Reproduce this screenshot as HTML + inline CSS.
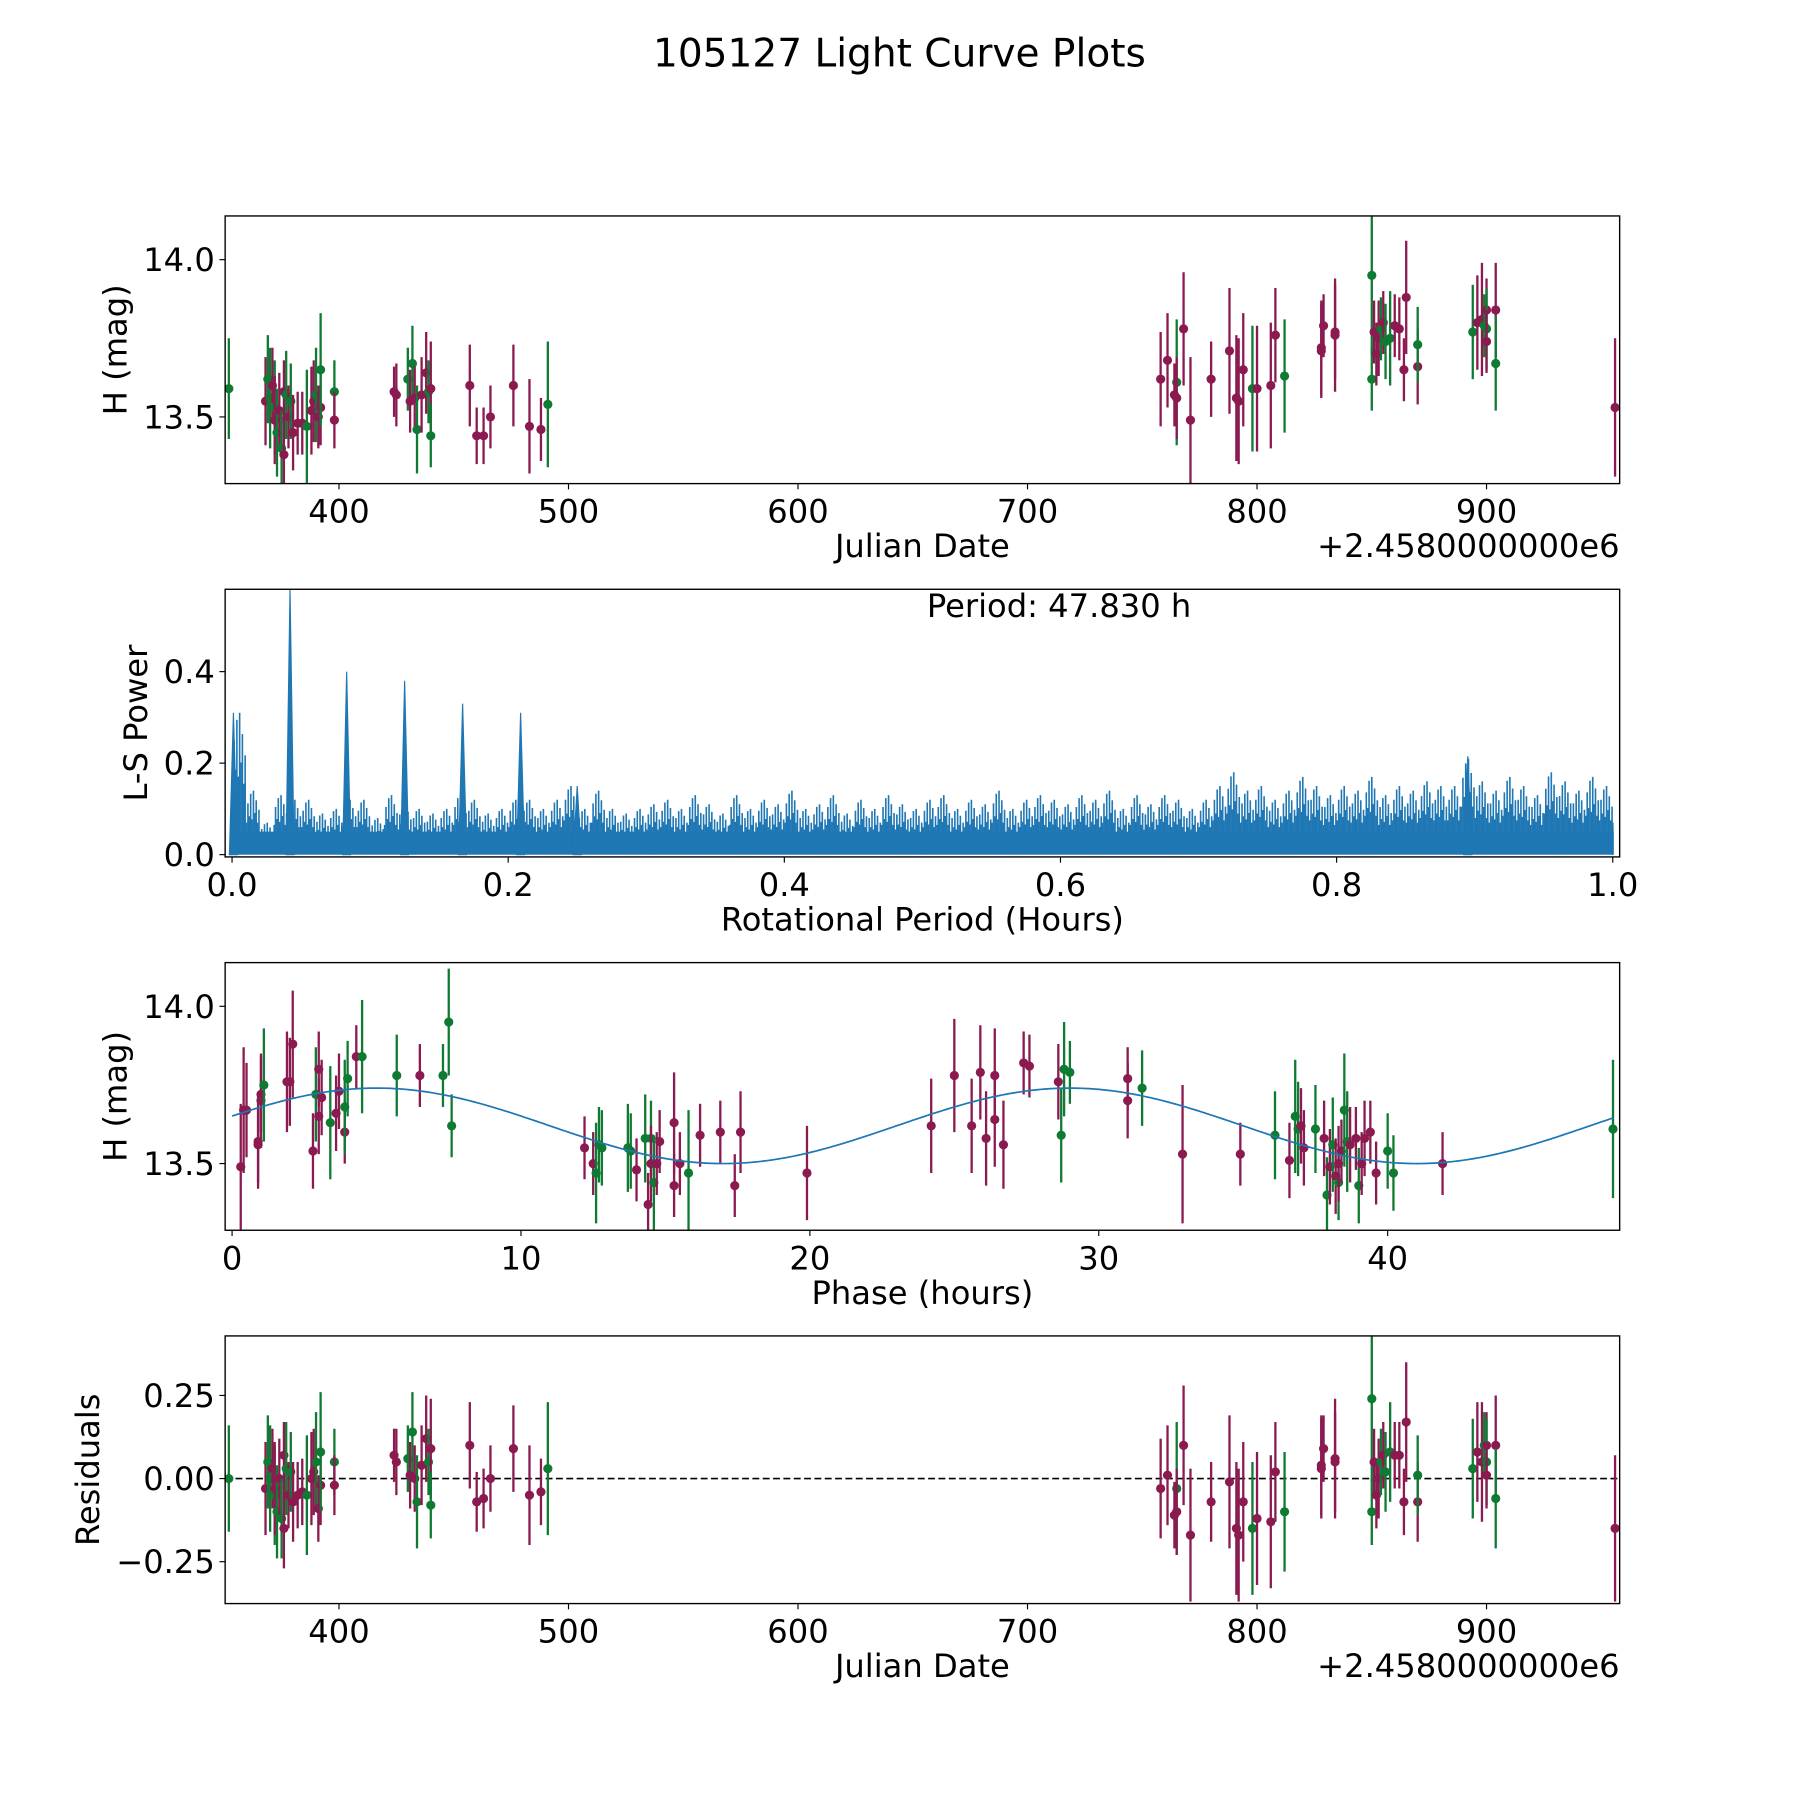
<!DOCTYPE html>
<html><head><meta charset="utf-8"><style>
html,body{margin:0;padding:0;background:#fff}
svg{display:block}
text{font-family:"DejaVu Sans","Liberation Sans",sans-serif;fill:#000}
</style></head><body>
<svg id="fig" xmlns="http://www.w3.org/2000/svg" width="1800" height="1800" viewBox="0 0 1567 1567">
<text x="783" y="58" font-size="34" text-anchor="middle">105127 Light Curve Plots</text>
</svg>
<script>
// ---- Panel 1 / 4 data: Julian date offsets (JD - 2458000), H mags, errors, filter (M=maroon, G=green)
const jdDays = [352,368,369,370,371,372,372,373,374,375,376,376,377,378,379,380,382,384,386,388,389,390,391,392,392,398,398,424,425,430,431,432,433,434,436,438,439,440,440,457,460,463,466,476,483,488,491,
758,761,765,765,764,768,771,780,788,791,792,794,798,800,806,808,812,828,828,829,834,834,850,850,851,852,853,854,855,856,858,860,862,864,865,870,870,894,896,898,899,900,900,900,904,904,956];
const hMag = [13.59,13.55,13.62,13.56,13.60,13.53,13.49,13.45,13.52,13.40,13.38,13.58,13.57,13.50,13.55,13.45,13.48,13.48,13.47,13.52,13.55,13.57,13.50,13.53,13.65,13.58,13.49,13.58,13.57,13.62,13.55,13.67,13.56,13.46,13.57,13.64,13.58,13.59,13.44,13.60,13.44,13.44,13.50,13.60,13.47,13.46,13.54,
13.62,13.68,13.61,13.56,13.57,13.78,13.49,13.62,13.71,13.56,13.55,13.65,13.59,13.59,13.60,13.76,13.63,13.72,13.71,13.79,13.76,13.77,13.95,13.62,13.77,13.70,13.75,13.78,13.80,13.74,13.75,13.79,13.78,13.65,13.88,13.66,13.73,13.77,13.80,13.81,13.79,13.84,13.78,13.74,13.84,13.67,13.53];
const hErr = [0.16,0.14,0.14,0.16,0.12,0.15,0.14,0.14,0.12,0.12,0.12,0.10,0.14,0.10,0.12,0.12,0.10,0.10,0.18,0.14,0.13,0.15,0.10,0.12,0.18,0.10,0.09,0.08,0.10,0.10,0.10,0.12,0.10,0.14,0.12,0.13,0.10,0.15,0.10,0.13,0.09,0.09,0.10,0.13,0.15,0.10,0.20,
0.15,0.15,0.20,0.13,0.10,0.18,0.20,0.12,0.20,0.20,0.20,0.18,0.20,0.20,0.20,0.15,0.18,0.15,0.15,0.10,0.18,0.15,0.25,0.10,0.10,0.10,0.12,0.10,0.10,0.12,0.15,0.10,0.10,0.10,0.18,0.12,0.12,0.15,0.15,0.18,0.10,0.10,0.13,0.10,0.15,0.15,0.22];
const filt = ['G','M','G','G','M','G','M','G','M','G','M','M','G','M','G','M','M','M','G','M','M','G','M','M','G','G','M','M','M','G','M','G','M','G','M','M','G','M','G','M','M','M','M','M','M','M','G',
'M','M','G','M','M','M','M','M','M','M','M','M','G','M','M','M','G','M','M','M','M','M','G','G','M','M','M','G','M','G','G','M','M','M','M','M','G','G','M','M','G','M','G','M','M','G','M'];
const resid = [0.00,-0.03,0.05,0.00,0.03,-0.05,-0.03,-0.10,0.00,-0.12,-0.15,0.07,0.03,-0.05,0.02,-0.07,-0.05,-0.04,-0.05,0.00,0.02,0.05,-0.09,-0.02,0.08,0.05,-0.02,0.07,0.05,0.06,0.01,0.14,0.00,-0.07,0.04,0.12,0.05,0.09,-0.08,0.10,-0.07,-0.06,0.00,0.09,-0.05,-0.04,0.03,
-0.03,0.01,-0.03,-0.10,-0.11,0.10,-0.17,-0.07,-0.01,-0.15,-0.17,-0.07,-0.15,-0.12,-0.13,0.02,-0.10,0.04,0.03,0.09,0.06,0.05,0.24,-0.10,0.05,-0.05,0.00,0.05,0.07,0.02,0.08,0.07,0.07,-0.07,0.17,-0.07,0.01,0.03,0.08,0.05,0.10,0.10,0.05,0.01,0.10,-0.06,-0.15];

// ---- Panel 2: periodogram
const lsBinStart = 0.0, lsBinStep = 0.01;
const lsNoiseMax = [.31,.14,.07,.13,.12,.12,.09,.10,.12,.12,
.08,.13,.11,.10,.09,.10,.13,.12,.09,.10,
.12,.12,.10,.12,.15,.10,.14,.10,.09,.10,
.11,.12,.10,.13,.11,.09,.13,.10,.12,.11,
.14,.10,.11,.13,.09,.12,.10,.13,.11,.10,
.12,.13,.10,.12,.11,.14,.10,.12,.13,.12,
.11,.13,.12,.14,.10,.13,.11,.13,.12,.10,
.12,.15,.18,.14,.15,.12,.14,.17,.15,.13,
.15,.14,.17,.13,.15,.14,.16,.15,.15,.21,
.16,.14,.17,.15,.13,.18,.16,.14,.17,.15,.07];
const lsBaseLevel = 0.05;
const lsPeakPos = [0.001,0.042,0.083,0.125,0.167,0.209,0.250,0.895];
const lsPeakPow = [0.31,0.58,0.40,0.38,0.33,0.31,0.15,0.215];
const periodLabel = "Period: 47.830 h";

// ---- Panel 3: phased light curve
const phaseHours = [0.3,0.4,0.5,0.9,0.9,1.0,1.0,1.1,1.9,2.0,2.1,2.8,2.9,3.0,3.0,3.1,3.4,3.6,3.7,3.9,3.9,4.0,4.3,4.5,5.7,6.5,7.3,7.5,7.6,
12.2,12.5,12.6,12.7,12.8,13.7,13.8,14.0,14.3,14.4,14.5,14.5,14.6,14.7,14.8,15.3,15.3,15.5,15.8,16.2,16.9,17.4,17.6,19.9,
24.2,25.0,25.6,25.9,26.1,26.4,26.4,26.7,27.4,27.6,28.6,28.7,28.8,29.0,31.0,31.0,31.5,32.9,34.9,
36.1,36.6,36.8,36.9,37.0,37.1,37.5,37.8,37.9,38.0,38.1,38.2,38.3,38.3,38.4,38.5,38.6,38.7,38.9,39.0,39.1,39.2,39.4,39.6,40.0,40.2,41.9,47.8];
const phaseMag = [13.49,13.67,13.67,13.57,13.56,13.70,13.72,13.75,13.76,13.76,13.88,13.54,13.72,13.65,13.80,13.71,13.63,13.66,13.73,13.60,13.68,13.77,13.84,13.84,13.78,13.78,13.78,13.95,13.62,
13.55,13.50,13.47,13.56,13.55,13.55,13.54,13.48,13.58,13.37,13.58,13.50,13.44,13.50,13.57,13.43,13.63,13.50,13.47,13.59,13.60,13.43,13.60,13.47,
13.62,13.78,13.62,13.79,13.58,13.64,13.78,13.56,13.82,13.81,13.76,13.59,13.80,13.79,13.70,13.77,13.74,13.53,13.53,
13.59,13.51,13.65,13.61,13.62,13.55,13.61,13.58,13.40,13.49,13.56,13.46,13.44,13.50,13.54,13.67,13.57,13.56,13.58,13.43,13.50,13.58,13.60,13.47,13.54,13.47,13.50,13.61];
const phaseErr = [0.2,0.2,0.15,0.15,0.12,0.15,0.12,0.18,0.16,0.14,0.17,0.12,0.15,0.12,0.12,0.12,0.18,0.12,0.12,0.1,0.15,0.12,0.1,0.18,0.13,0.1,0.1,0.17,0.1,
0.1,0.1,0.16,0.12,0.12,0.14,0.12,0.1,0.14,0.1,0.12,0.12,0.15,0.1,0.1,0.1,0.16,0.1,0.2,0.1,0.1,0.1,0.13,0.15,
0.15,0.18,0.15,0.15,0.15,0.15,0.15,0.14,0.1,0.1,0.12,0.15,0.15,0.1,0.12,0.1,0.12,0.22,0.1,
0.14,0.12,0.18,0.15,0.12,0.12,0.14,0.12,0.12,0.12,0.15,0.12,0.12,0.12,0.1,0.18,0.16,0.12,0.1,0.12,0.1,0.12,0.1,0.1,0.12,0.12,0.1,0.22];
const phaseFilt = ['M','M','M','M','M','M','M','G','M','M','M','M','G','M','M','M','G','M','M','M','G','G','M','G','G','M','G','G','G',
'M','M','G','G','G','G','G','M','G','M','G','M','G','M','M','M','M','M','G','M','M','M','M','M',
'M','M','M','M','M','M','M','M','M','M','M','G','G','G','M','M','G','M','M',
'G','M','G','G','M','M','G','M','G','M','G','M','G','M','M','G','G','M','M','G','M','M','M','M','G','G','M','G'];
const modelMean = 13.62, modelAmp = 0.12, modelPeak = 5.0, modelPeriod = 24.0, phaseMax = 47.83;

// ---- tick labels
const jdTicks = [400,500,600,700,800,900];
const hTicks = [13.5,14.0];
const hTickLabels = ["13.5","14.0"];
const lsXTicks = [0.0,0.2,0.4,0.6,0.8,1.0];
const lsYTicks = [0.0,0.2,0.4];
const phTicks = [0,10,20,30,40];
const resTicks = [-0.25,0,0.25];
const resTickLabels = ["\u22120.25","0.00","0.25"];

const NS = 'http://www.w3.org/2000/svg';
const svg = document.getElementById('fig');
const COL = {M:'#8b1a50', G:'#0e7a32'};
const BLUE = '#1f77b4';
const AX_L = 196, AX_R = 1410;
const TICK_FS = 28, LABEL_FS = 28;
function mk(tag, attrs, parent){
  const e = document.createElementNS(NS, tag);
  for (const k in attrs) e.setAttribute(k, attrs[k]);
  (parent||svg).appendChild(e);
  return e;
}
function scale(d0,d1,r0,r1){ return v => r0 + (v-d0)*(r1-r0)/(d1-d0); }

function axesFrame(name, top, bottom, xs, ys, xt, xtl, yt, ytl, xlabel, ylabel, ylabX, offset){
  const g = mk('g', {});
  
  
  const plot = mk('g', {}, g);
  
  
  const clipId = name + '-clip';
  const cp = mk('clipPath', {id: clipId}, g);
  mk('rect', {x:AX_L, y:top, width:AX_R-AX_L, height:bottom-top}, cp);
  plot.setAttribute('clip-path', 'url(#' + clipId + ')');
  xt.forEach((v,i) => {
    const x = xs(v);
    mk('line', {x1:x, x2:x, y1:bottom, y2:bottom+5, stroke:'#000', 'stroke-width':1}, g);
    const t = mk('text', {x:x, y:bottom+34, 'font-size':TICK_FS, 'text-anchor':'middle'}, g);
    
    
    t.textContent = xtl[i];
  });
  yt.forEach((v,i) => {
    const y = ys(v);
    mk('line', {x1:AX_L-5, x2:AX_L, y1:y, y2:y, stroke:'#000', 'stroke-width':1}, g);
    const t = mk('text', {x:AX_L-9, y:y+10, 'font-size':TICK_FS, 'text-anchor':'end'}, g);
    
    
    t.textContent = ytl[i];
  });
  const xl = mk('text', {x:(AX_L+AX_R)/2, y:bottom+64, 'font-size':LABEL_FS, 'text-anchor':'middle'}, g);
  
  
  xl.textContent = xlabel;
  const cy = (top+bottom)/2;
  const yl = mk('text', {x:ylabX, y:cy, 'font-size':LABEL_FS, 'text-anchor':'middle', transform:'rotate(-90 '+ylabX+' '+cy+')'}, g);
  
  
  yl.textContent = ylabel;
  if (offset){
    const o = mk('text', {x:AX_R, y:bottom+64, 'font-size':LABEL_FS, 'text-anchor':'end'}, g);
    
    
    o.textContent = offset;
  }
  return {g, plot, frame: () => mk('rect', {x:AX_L, y:top, width:AX_R-AX_L, height:bottom-top, fill:'none', stroke:'#000', 'stroke-width':1.2}, g)};
}

function errPoint(parent, x, y, yTop, yBot, color, name){
  const ln = mk('line', {x1:x, x2:x, y1:yTop, y2:yBot, stroke:color, 'stroke-width':2}, parent);
  
  
  const c = mk('circle', {cx:x, cy:y, r:4, fill:color}, parent);
  
  
}

// Panel 1
(function(){
  const top=188, bot=421;
  const xs = scale(350.4, 958, AX_L, AX_R), ys = scale(13.288, 14.139, bot, top);
  const a = axesFrame('light-curve-panel', top, bot, xs, ys, jdTicks, jdTicks.map(String), hTicks, hTickLabels, 'Julian Date', 'H (mag)', 110, '+2.4580000000e6');
  jdDays.forEach((d,i) => errPoint(a.plot, xs(d), ys(hMag[i]), ys(hMag[i]+hErr[i]), ys(hMag[i]-hErr[i]), COL[filt[i]], 'light-curve'));
  a.frame();
})();

// Panel 2
(function(){
  const top=513, bot=746;
  const xs = scale(-0.005, 1.005, AX_L, AX_R), ys = scale(-0.005, 0.58, bot, top);
  const a = axesFrame('periodogram-panel', top, bot, xs, ys, lsXTicks, lsXTicks.map(v=>v.toFixed(1)), lsYTicks, lsYTicks.map(v=>v.toFixed(1)), 'Rotational Period (Hours)', 'L-S Power', 128, null);
  const base = mk('rect', {x:xs(0), y:ys(lsBaseLevel), width:xs(1)-xs(0), height:ys(0)-ys(lsBaseLevel), fill:BLUE}, a.plot);
  
  
  const fr = [0.05,0.15,0.25,0.35,0.45,0.55,0.65,0.75,0.85,0.95], hf = [0.5,0.8,0.6,0.95,0.55,1.0,0.65,0.85,0.5,0.7];
  lsNoiseMax.forEach((p,i) => {
    const b0 = lsBinStart + i*lsBinStep;
    fr.forEach((f,j) => {
      const pv = Math.max(lsBaseLevel, p*hf[j]);
      const x = xs(Math.min(1, b0 + f*lsBinStep));
      const l = mk('line', {x1:x, x2:x, y1:ys(0), y2:ys(pv), stroke:BLUE, 'stroke-width':1.4}, a.plot);
      
      
    });
  });
  lsPeakPos.forEach((p,i) => {
    const x = xs(p), w = 3.5;
    const pg = mk('polygon', {points:`${x-w},${ys(0)} ${x},${ys(lsPeakPow[i])} ${x+w},${ys(0)}`, fill:BLUE, stroke:BLUE, 'stroke-width':1}, a.plot);
    
    
  });
  const t = mk('text', {x:922, y:537, 'font-size':LABEL_FS, 'text-anchor':'middle'}, a.g);
  
  
  t.textContent = periodLabel;
  a.frame();
})();

// Panel 3
(function(){
  const top=838, bot=1071;
  const xs = scale(-0.24, 48.03, AX_L, AX_R), ys = scale(13.288, 14.139, bot, top);
  const a = axesFrame('phased-curve-panel', top, bot, xs, ys, phTicks, phTicks.map(String), hTicks, hTickLabels, 'Phase (hours)', 'H (mag)', 110, null);
  phaseHours.forEach((p,i) => errPoint(a.plot, xs(p), ys(phaseMag[i]), ys(phaseMag[i]+phaseErr[i]), ys(phaseMag[i]-phaseErr[i]), COL[phaseFilt[i]], 'phased'));
  let d = '';
  for (let k=0; k<=400; k++){
    const p = phaseMax*k/400;
    const m = modelMean + modelAmp*Math.cos(2*Math.PI*(p-modelPeak)/modelPeriod);
    d += (k?'L':'M') + xs(p).toFixed(2) + ',' + ys(m).toFixed(2);
  }
  const path = mk('path', {d:d, fill:'none', stroke:BLUE, 'stroke-width':1.5}, a.plot);
  
  
  a.frame();
})();

// Panel 4
(function(){
  const top=1163, bot=1396;
  const xs = scale(350.4, 958, AX_L, AX_R), ys = scale(-0.376, 0.429, bot, top);
  const a = axesFrame('residuals-panel', top, bot, xs, ys, jdTicks, jdTicks.map(String), resTicks, resTickLabels, 'Julian Date', 'Residuals', 86, '+2.4580000000e6');
  const zl = mk('line', {x1:AX_L, x2:AX_R, y1:ys(0), y2:ys(0), stroke:'#000', 'stroke-width':1.5, 'stroke-dasharray':'6,3'}, a.plot);
  
  
  jdDays.forEach((d,i) => errPoint(a.plot, xs(d), ys(resid[i]), ys(resid[i]+hErr[i]), ys(resid[i]-hErr[i]), COL[filt[i]], 'residual'));
  a.frame();
})();
</script>
</body></html>
